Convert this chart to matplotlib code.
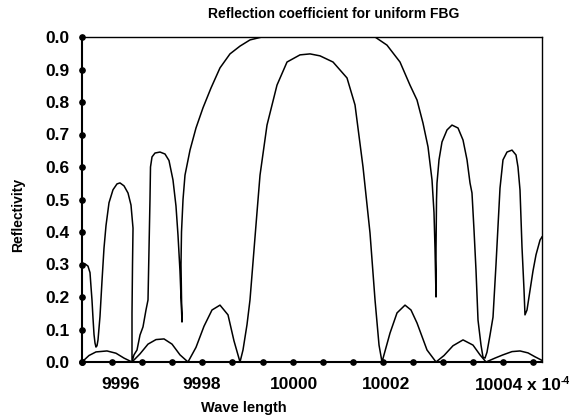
import numpy as np
import matplotlib.pyplot as plt
import matplotlib.transforms as mtransforms

plt.rcParams['font.family'] = ['Liberation Sans', 'DejaVu Sans']

# wavelength in units of 1e-4, reflectivity
# weak grating (peak ~0.95)
wl_weak = [9995.400, 9995.552, 9995.704, 9995.943, 9996.139, 9996.313, 9996.487,
           9996.661, 9996.835, 9997.009, 9997.183, 9997.357, 9997.530, 9997.704,
           9997.878, 9998.052, 9998.226, 9998.400, 9998.574, 9998.704, 9998.835,
           9998.900, 9998.987, 9999.052, 9999.139, 9999.204, 9999.270, 9999.422,
           9999.639, 9999.857, 10000.139, 10000.357, 10000.574, 10000.857,
           10001.161, 10001.335, 10001.509, 10001.661, 10001.770, 10001.857,
           10001.922, 10002.096, 10002.248, 10002.422, 10002.552, 10002.683,
           10002.900, 10003.096, 10003.270, 10003.465, 10003.683, 10003.900,
           10004.052, 10004.183, 10004.378, 10004.552, 10004.748, 10004.922,
           10005.096, 10005.248, 10005.400]
r_weak = [0.000, 0.020, 0.031, 0.034, 0.027, 0.012, 0.000,
          0.025, 0.055, 0.069, 0.071, 0.055, 0.022, 0.000,
          0.045, 0.110, 0.160, 0.175, 0.145, 0.065, 0.000,
          0.037, 0.115, 0.191, 0.345, 0.460, 0.575, 0.729,
          0.852, 0.923, 0.945, 0.948, 0.942, 0.923,
          0.874, 0.791, 0.600, 0.397, 0.191, 0.052,
          0.000, 0.089, 0.151, 0.175, 0.160, 0.120,
          0.037, 0.000, 0.020, 0.050, 0.068, 0.052,
          0.022, 0.000, 0.012, 0.022, 0.032, 0.034,
          0.028, 0.016, 0.005]

# strong grating (saturated top), traced as one path
wl_strong = [9995.400, 9995.465, 9995.530, 9995.574, 9995.596, 9995.617, 9995.639,
             9995.661, 9995.683, 9995.704, 9995.726, 9995.748, 9995.791, 9995.835,
             9995.878, 9995.922, 9995.987, 9996.074, 9996.161, 9996.226, 9996.313,
             9996.400, 9996.465, 9996.509, 9996.498, 9996.487, 9996.487, 9996.530,
             9996.596, 9996.661, 9996.726, 9996.791, 9996.835, 9996.857, 9996.878,
             9996.889, 9996.922, 9996.987, 9997.096, 9997.204, 9997.291, 9997.378,
             9997.443, 9997.487, 9997.530, 9997.552, 9997.574, 9997.563, 9997.552,
             9997.563, 9997.596, 9997.639, 9997.748, 9997.878, 9998.030, 9998.204,
             9998.400, 9998.617, 9998.835, 9999.052, 9999.313, 10001.770,
             10002.030, 10002.313, 10002.530, 10002.683, 10002.813, 10002.922,
             10003.009, 10003.052, 10003.074, 10003.096, 10003.096, 10003.107,
             10003.117, 10003.161, 10003.226, 10003.335, 10003.443, 10003.574,
             10003.683, 10003.770, 10003.835, 10003.878, 10003.922, 10003.965,
             10004.009, 10004.074, 10004.117, 10004.161, 10004.204, 10004.270,
             10004.335, 10004.400, 10004.487, 10004.552, 10004.639, 10004.748,
             10004.835, 10004.878, 10004.922, 10004.965, 10005.009, 10005.030,
             10005.074, 10005.139, 10005.204, 10005.270, 10005.357, 10005.400]
r_strong = [0.302, 0.302, 0.295, 0.275, 0.231, 0.191, 0.135,
            0.085, 0.058, 0.046, 0.050, 0.068, 0.140, 0.250,
            0.350, 0.420, 0.490, 0.530, 0.548, 0.551, 0.542,
            0.520, 0.483, 0.412, 0.300, 0.150, 0.000, 0.022,
            0.037, 0.083, 0.108, 0.160, 0.191, 0.350, 0.500,
            0.600, 0.631, 0.643, 0.646, 0.640, 0.620, 0.560,
            0.480, 0.390, 0.280, 0.200, 0.123, 0.200, 0.300,
            0.400, 0.500, 0.575, 0.652, 0.720, 0.782, 0.843,
            0.905, 0.948, 0.972, 0.991, 1.000, 1.000,
            0.975, 0.923, 0.852, 0.806, 0.735, 0.662,
            0.560, 0.460, 0.350, 0.200, 0.350, 0.500,
            0.550, 0.622, 0.677, 0.714, 0.729, 0.720,
            0.683, 0.622, 0.551, 0.520, 0.406, 0.283,
            0.129, 0.052, 0.015, 0.012, 0.030, 0.083,
            0.138, 0.300, 0.535, 0.622, 0.646, 0.652,
            0.637, 0.600, 0.529, 0.354, 0.222, 0.145,
            0.160, 0.220, 0.280, 0.330, 0.375, 0.385]

ytick_vals = [0.0, 0.1, 0.2, 0.3, 0.4, 0.5, 0.6, 0.7, 0.8, 0.9, 1.0]
ytick_labels = ['0.0', '0.1', '0.2', '0.3', '0.4', '0.5', '0.6', '0.7', '0.8', '0.9', '0.0']
xtick_vals = [9996.23, 9998.0, 10000.0, 10002.0]
xtick_labels = ['9996', '9998', '10000', '10002']
last_label = '10004'
last_label_x = 10003.95
scale_text = 'x 10'
scale_exp = '-4'

xmin, xmax = 9995.4, 10005.4
xdot_step = 0.654

fig = plt.figure(figsize=(5.72, 4.18), dpi=100)
ax = fig.add_axes([82/572, 1 - 362/418, 460/572, 325/418])

ax.plot(wl_weak, r_weak, color='black', lw=1.1)
ax.plot(wl_strong, r_strong, color='black', lw=1.1)

ax.set_xlim(xmin, xmax)
ax.set_ylim(0, 1)

# dot markers along the axes
xdots = xmin + np.arange(16) * xdot_step
ax.plot(xdots, np.zeros_like(xdots), 'o', color='black', ms=3.8, clip_on=False, zorder=5)
ax.plot(np.full(len(ytick_vals), xmin), ytick_vals, 'o', color='black', ms=3.8,
        clip_on=False, zorder=5)

ax.set_yticks(ytick_vals)
ax.set_yticklabels(ytick_labels, fontsize=12.5, fontweight='bold')
ax.set_xticks(xtick_vals)
ax.set_xticklabels(xtick_labels, fontsize=12.5, fontweight='bold')
ax.tick_params(axis='y', length=0, pad=9)
ax.tick_params(axis='x', length=0, pad=11)

# last x label with the scale factor, on the same baseline as the others
trans = mtransforms.blended_transform_factory(ax.transData, ax.transAxes)
t1 = ax.text(last_label_x, -28/325, last_label, transform=trans, ha='left',
             va='baseline', fontsize=12.5, fontweight='bold', clip_on=False)
t2 = ax.annotate(scale_text, xy=(1, 0), xycoords=t1, xytext=(2.5, 0),
                 textcoords='offset points', ha='left', va='bottom',
                 fontsize=12.5, fontweight='bold')
ax.annotate(scale_exp, xy=(1, 1), xycoords=t2, xytext=(0, 1.5),
            textcoords='offset points', ha='left', va='top',
            fontsize=7.5, fontweight='bold')

for side in ['left', 'bottom']:
    ax.spines[side].set_linewidth(1.5)
for side in ['top', 'right']:
    ax.spines[side].set_linewidth(1.0)

fig.text(334/572, 1 - 14/418, 'Reflection coefficient for uniform FBG',
         ha='center', va='center', fontsize=10, fontweight='bold')
fig.text(244/572, 1 - 408/418, 'Wave length', ha='center', va='center',
         fontsize=10.5, fontweight='bold')
fig.text(18/572, 1 - 215/418, 'Reflectivity', ha='center', va='center',
         rotation=90, fontsize=10, fontweight='bold')

fig.savefig('out.png', dpi=100)
